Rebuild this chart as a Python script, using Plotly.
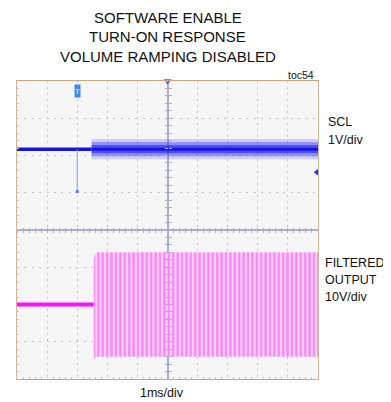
"""Scope capture: software enable turn-on response, volume ramping disabled."""
import plotly.graph_objects as go

# Screen: 10 x 8 divisions, 1 ms/div, time 0 = centre of screen.
# Vertical values are in screen divisions (centre line = 0).
X_RANGE = [-5, 5]
Y_RANGE = [-4, 4]

# SCL (1V/div)
scl_idle_t = [-5.0, -2.52]
scl_idle_v = [2.17, 2.17]
scl_glitch_t = [-3.0, -3.0]
scl_glitch_v = [2.17, 1.03]
scl_busy_t = [-2.52, 5.0]
scl_busy_mid = [2.17, 2.17]
scl_busy_hi = [2.44, 2.44]
scl_busy_lo = [1.90, 1.90]
scl_mid_hi = [2.36, 2.36]
scl_mid_lo = [1.98, 1.98]
scl_core_hi = [2.28, 2.28]
scl_core_lo = [2.06, 2.06]

# Filtered output (10V/div)
out_idle_t = [-5.0, -2.45]
out_idle_v = [-2.0, -2.0]
out_burst_t = [-2.45, -2.41, -2.33, 5.0]
out_burst_hi = [-0.80, -0.66, -0.60, -0.60]
out_burst_lo = [-3.48, -3.43, -3.40, -3.40]

# scope markers
trig_time = -3.0
hpos_marker_t = [0.0]
ch1_ref_level = [1.55]

title_lines = ["SOFTWARE ENABLE", "TURN-ON RESPONSE", "VOLUME RAMPING DISABLED"]
scl_label = ["SCL", "1V/div"]
out_label = ["FILTERED", "OUTPUT", "10V/div"]
time_label = "1ms/div"
toc_label = "toc54"

FONT = "Liberation Sans, Arial, sans-serif"
BLUE = "#1414e6"
MAGENTA = "#ff10ff"
CROSS = "#a9afc8"

# the page body adds an 8 px margin, so the figure is drawn 8 px smaller
PAGE_PAD = 8


def band(t, hi, lo):
    return list(t) + list(t)[::-1], list(hi) + list(lo)[::-1]


fig = go.Figure()

# --- SCL -------------------------------------------------------------------
for hi, lo, col in ((scl_busy_hi, scl_busy_lo, "rgba(60,60,255,0.22)"),
                    (scl_mid_hi, scl_mid_lo, "rgba(40,40,245,0.35)"),
                    (scl_core_hi, scl_core_lo, "rgba(25,25,235,0.55)")):
    bx, by = band(scl_busy_t, hi, lo)
    fig.add_trace(go.Scatter(x=bx, y=by, fill="toself", mode="lines", line=dict(width=0),
                             fillcolor=col, hoverinfo="skip"))
fig.add_trace(go.Scatter(x=scl_busy_t, y=scl_busy_mid, mode="lines",
                         line=dict(color=BLUE, width=3)))
fig.add_trace(go.Scatter(x=scl_idle_t, y=scl_idle_v, mode="lines",
                         line=dict(color=BLUE, width=3.5)))
fig.add_trace(go.Scatter(x=scl_glitch_t, y=scl_glitch_v, mode="lines",
                         line=dict(color="#8aa0f5", width=1)))
fig.add_trace(go.Scatter(x=scl_glitch_t[1:], y=scl_glitch_v[1:], mode="markers",
                         marker=dict(color="#5a78f0", size=3, symbol="square")))

# --- Filtered output ---------------------------------------------------------
bx, by = band(out_burst_t, out_burst_hi, out_burst_lo)
fig.add_trace(go.Scatter(x=bx, y=by, fill="toself", mode="lines", line=dict(width=0),
                         fillcolor="#f590f5",
                         fillpattern=dict(shape="|", size=4.4, solidity=0.5,
                                          fgcolor="#f03cf0", bgcolor="#fad0fa"),
                         hoverinfo="skip"))
fig.add_trace(go.Scatter(x=out_idle_t, y=out_idle_v, mode="lines",
                         line=dict(color=MAGENTA, width=4)))

# --- scope markers -----------------------------------------------------------
fig.add_trace(go.Scatter(x=hpos_marker_t, y=[Y_RANGE[1]], mode="markers", cliponaxis=False,
                         marker=dict(symbol="triangle-down", size=7, color="#2a6af0")))
fig.add_trace(go.Scatter(x=[X_RANGE[1] - 0.04], y=ch1_ref_level, mode="markers", cliponaxis=False,
                         marker=dict(symbol="triangle-left", size=6, color="#2030f0")))

# --- text --------------------------------------------------------------------
# y positions below are in screen pixels of the target, turned into paper units
PLOT_BOTTOM, PLOT_H = 379, 298
ann = []
for i, s in enumerate(title_lines):
    ann.append(dict(text=s, x=0.5, y=(PLOT_BOTTOM - 17 - 19.5 * i) / PLOT_H, font=dict(size=15)))
ann.append(dict(text=toc_label, x=0.994, y=(PLOT_BOTTOM - 75) / PLOT_H, xanchor="right",
                font=dict(size=10.5)))
for i, s in enumerate(scl_label):
    ann.append(dict(text=s, x=1.028, y=(PLOT_BOTTOM - 122 - 18 * i) / PLOT_H, xanchor="left",
                    font=dict(size=12.5)))
for i, s in enumerate(out_label):
    ann.append(dict(text=s, x=1.018, y=(PLOT_BOTTOM - 263 - 17 * i) / PLOT_H, xanchor="left",
                    font=dict(size=12.5)))
ann.append(dict(text=time_label, x=0.482, y=(PLOT_BOTTOM - 393) / PLOT_H, font=dict(size=12.5)))
for a in ann:
    a.update(xref="paper", yref="paper", showarrow=False, yanchor="middle")
    a.setdefault("xanchor", "center")
    a["font"].update(family=FONT, color="#111111")
ann.append(dict(text="T", x=trig_time, y=3.72, xref="x", yref="y", showarrow=False,
                width=5, height=12, bgcolor="#3f88f0", borderpad=0,
                font=dict(family=FONT, size=8, color="white")))

fig.update_layout(
    width=391 - PAGE_PAD, height=402 - PAGE_PAD,
    margin=dict(l=17 - PAGE_PAD, r=73, t=81 - PAGE_PAD, b=23),
    paper_bgcolor="white", plot_bgcolor="#f6f6f6",
    showlegend=False, annotations=ann,
    xaxis=dict(range=X_RANGE, dtick=1, tick0=-5, showgrid=True, gridcolor="#c4c4c4",
               griddash="2px,4px", gridwidth=1, zeroline=True, zerolinecolor=CROSS,
               zerolinewidth=2, showticklabels=False, ticks="", showline=True,
               linecolor="#d4a472", linewidth=1, mirror=True, fixedrange=True,
               minor=dict(ticks="inside", dtick=0.2, ticklen=2, tickcolor="#c4c4c4")),
    yaxis=dict(range=Y_RANGE, dtick=1, tick0=-4, showgrid=True, gridcolor="#c4c4c4",
               griddash="2px,5.4px", gridwidth=1, zeroline=True, zerolinecolor=CROSS,
               zerolinewidth=2, showticklabels=False, ticks="", showline=True,
               linecolor="#d4b494", linewidth=1, mirror=True, fixedrange=True,
               minor=dict(ticks="inside", dtick=0.2, ticklen=2, tickcolor="#c4c4c4")),
)

# centre crosshair tick marks
for side, name in (("inside", "xaxis2"), ("outside", "xaxis3")):
    fig.update_layout(**{name: dict(overlaying="x", anchor="free", position=0.5, range=X_RANGE,
                                    showline=False, showgrid=False, zeroline=False,
                                    showticklabels=False, ticks=side, tickmode="linear",
                                    tick0=-5, dtick=0.2, ticklen=2, tickcolor=CROSS,
                                    fixedrange=True)})
for side, name in (("inside", "yaxis2"), ("outside", "yaxis3")):
    fig.update_layout(**{name: dict(overlaying="y", anchor="free", position=0.5, range=Y_RANGE,
                                    showline=False, showgrid=False, zeroline=False,
                                    showticklabels=False, ticks=side, tickmode="linear",
                                    tick0=-4, dtick=0.2, ticklen=3, tickcolor=CROSS,
                                    fixedrange=True)})
# dummy traces so the overlay axes are drawn
fig.add_trace(go.Scatter(x=[None], y=[None], xaxis="x2", yaxis="y2", hoverinfo="skip"))
fig.add_trace(go.Scatter(x=[None], y=[None], xaxis="x3", yaxis="y3", hoverinfo="skip"))

fig.write_html("out.html")
